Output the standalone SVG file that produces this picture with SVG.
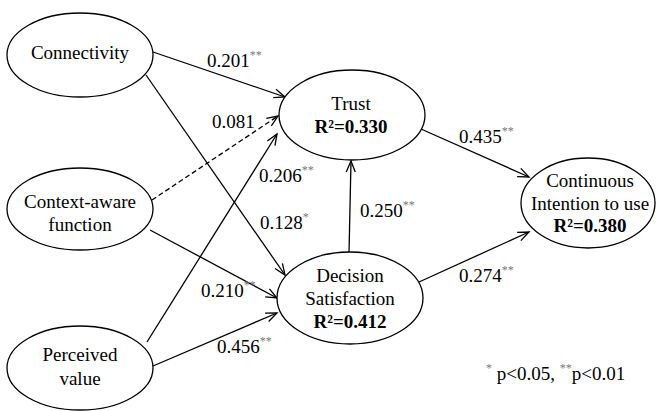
<svg xmlns="http://www.w3.org/2000/svg" width="656" height="411" viewBox="0 0 656 411">
  <style>
    text { font-family: "Liberation Serif", "Times New Roman", serif; font-size: 19px; fill: #000; }
    .c { text-anchor: middle; }
    .b { font-weight: bold; }
    .sup { font-size: 12px; fill: #777; }
    ellipse { fill: #fff; stroke: #000; stroke-width: 1.3; }
    .edge { stroke: #000; stroke-width: 1.3; fill: none; marker-end: url(#arrow); }
    .dash { stroke-dasharray: 5 3; }
  </style>
  <defs>
    <marker id="arrow" markerUnits="userSpaceOnUse" markerWidth="14" markerHeight="12" refX="12" refY="6" orient="auto">
      <path d="M1,1.5 L12,6 L1,10.5" fill="none" stroke="#000" stroke-width="1.3"/>
    </marker>
  </defs>
  <rect width="656" height="411" fill="#fff"/>

  <g id="connectors">
    <line class="edge" x1="153" y1="52" x2="285" y2="97"/>
    <line class="edge" x1="146" y1="75" x2="285" y2="275"/>
    <line class="edge dash" x1="152" y1="200" x2="278" y2="116"/>
    <line class="edge" x1="147" y1="342" x2="277" y2="134"/>
    <line class="edge" x1="150" y1="230" x2="277" y2="298"/>
    <line class="edge" x1="153" y1="366" x2="277" y2="313"/>
    <line class="edge" x1="349" y1="253" x2="351" y2="161"/>
    <line class="edge" x1="421" y1="129" x2="529" y2="177"/>
    <line class="edge" x1="419" y1="282" x2="529" y2="232"/>
  </g>

  <g id="connectivity">
    <ellipse cx="80" cy="55" rx="73" ry="42"/>
    <text class="c" x="80" y="59">Connectivity</text>
  </g>
  <g id="context-aware">
    <ellipse cx="80" cy="209" rx="73" ry="41"/>
    <text class="c" x="80" y="208">Context-aware</text>
    <text class="c" x="80" y="231">function</text>
  </g>
  <g id="perceived-value">
    <ellipse cx="80" cy="368" rx="73" ry="42"/>
    <text class="c" x="80" y="361">Perceived</text>
    <text class="c" x="80" y="385">value</text>
  </g>
  <g id="trust">
    <ellipse cx="352" cy="115" rx="73" ry="45"/>
    <text class="c" x="351" y="110">Trust</text>
    <text class="c b" x="351" y="133">R²=0.330</text>
  </g>
  <g id="decision-satisfaction">
    <ellipse cx="350" cy="298" rx="73" ry="46"/>
    <text class="c" x="350" y="282">Decision</text>
    <text class="c" x="350" y="305">Satisfaction</text>
    <text class="c b" x="350" y="328">R²=0.412</text>
  </g>
  <g id="continuous-intention">
    <ellipse cx="588" cy="203" rx="67" ry="45"/>
    <text class="c" x="590" y="187">Continuous</text>
    <text class="c" x="590" y="210">Intention to use</text>
    <text class="c b" x="590" y="232">R²=0.380</text>
  </g>

  <g id="path-labels">
    <text x="207" y="67">0.201<tspan class="sup" dy="-8">**</tspan></text>
    <text x="212" y="128">0.081</text>
    <text x="259" y="182">0.206<tspan class="sup" dy="-8">**</tspan></text>
    <text x="260" y="229">0.128<tspan class="sup" dy="-8">*</tspan></text>
    <text x="201" y="297">0.210<tspan class="sup" dy="-8">**</tspan></text>
    <text x="217" y="353">0.456<tspan class="sup" dy="-8">**</tspan></text>
    <text x="360" y="217">0.250<tspan class="sup" dy="-8">**</tspan></text>
    <text x="459" y="143">0.435<tspan class="sup" dy="-8">**</tspan></text>
    <text x="459" y="282">0.274<tspan class="sup" dy="-8">**</tspan></text>
  </g>

  <text id="note" x="486" y="380"><tspan class="sup" dy="-8">*</tspan><tspan dy="8"> p&lt;0.05, </tspan><tspan class="sup" dy="-8">**</tspan><tspan dy="8">p&lt;0.01</tspan></text>
</svg>
